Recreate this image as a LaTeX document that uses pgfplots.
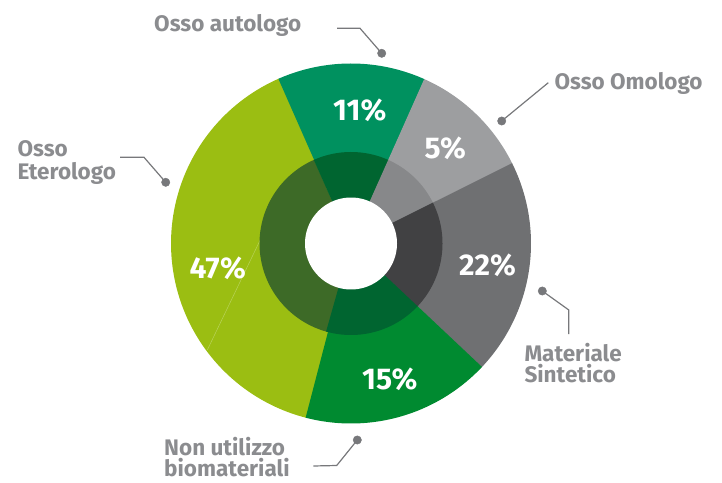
\documentclass[border=0pt]{standalone}
\usepackage{pgfplots}
\pgfplotsset{compat=1.18}
\usepackage{fontspec}
\setmainfont{Fira Sans}
\definecolor{cTeal}{HTML}{00915F}
\definecolor{cDkGreen}{HTML}{006530}
\definecolor{cLtGrey}{HTML}{9D9EA0}
\definecolor{cMdGrey}{HTML}{87888A}
\definecolor{cGrey}{HTML}{6F7072}
\definecolor{cDkGrey}{HTML}{414143}
\definecolor{cGreen}{HTML}{008A30}
\definecolor{cYGreen}{HTML}{9BBE12}
\definecolor{cOlive}{HTML}{3D6A27}
\definecolor{cFaint}{HTML}{B9D35A}
\definecolor{cLabel}{HTML}{8B8C8F}
\definecolor{cLine}{HTML}{77787B}
% sector: start angle, end angle, radius, colour
\newcommand{\sector}[4]{%
  \addplot[fill=#4, draw=none, domain=#1:#2, samples=90]
    ({351+#3*cos(x)},{238.5+#3*sin(x)}) -- (axis cs:351,238.5) -- cycle;}
\begin{document}
\begin{tikzpicture}
\begin{axis}[scale only axis, width=722pt, height=482pt,
  xmin=0, xmax=722, ymin=0, ymax=482, hide axis, clip=false]
\path (rel axis cs:0,0) rectangle (rel axis cs:1,1);
% outer ring (angles in degrees)
\sector{113.5}{256}{180}{cYGreen}     % Osso Eterologo 47%
\sector{65.8}{113.8}{180}{cTeal}      % Osso autologo 11%
\sector{26.3}{66}{180}{cLtGrey}       % Osso Omologo 5%
\sector{-43.6}{26.5}{180}{cGrey}      % Materiale Sintetico 22%
\sector{-104.6}{-43.3}{180}{cGreen}   % Non utilizzo biomateriali 15%
\addplot[color=cFaint, line width=0.5pt] coordinates {(261,243.7) (207.3,132)};
% inner ring
\sector{113.8}{256}{91.5}{cOlive}
\sector{65.8}{114}{91.5}{cDkGreen}
\sector{26.3}{66}{91.5}{cMdGrey}
\sector{-43.6}{26.5}{91.5}{cDkGrey}
\sector{-105.8}{-43.3}{91.5}{cDkGreen}
% hole
\addplot[fill=white, draw=none, domain=0:360, samples=120]
  ({351+46*cos(x)},{238.5+46*sin(x)}) -- cycle;
% percentages
\begin{scope}[every node/.style={anchor=base, inner sep=0pt, text=white,
  font=\bfseries\fontsize{30}{30}\selectfont}]
\node at (axis cs:359.7,361.3) {11\%};
\node at (axis cs:445.3,323.7) {5\%};
\node at (axis cs:487.5,206) {22\%};
\node at (axis cs:389.7,92.7) {15\%};
\node at (axis cs:217.7,203.7) {47\%};
\end{scope}
% leader lines
\addplot[color=cLine, line width=1.2pt] coordinates {(337,453.7) (360,453.7) (381.7,428.7)};
\addplot[color=cLine, line width=1.2pt] coordinates {(501.7,361) (548.3,399.3)};
\addplot[color=cLine, line width=1.2pt] coordinates {(120,324.7) (144,324.7) (165.7,299.7)};
\addplot[color=cLine, line width=1.2pt] coordinates {(542.3,191) (568.8,172) (568.8,148)};
\addplot[color=cLine, line width=1.2pt] coordinates {(357.3,42) (336.7,16.5) (313.3,16)};
\addplot[only marks, mark=*, mark size=4.2pt, color=cLine] coordinates {
  (381.7,428.7) (501.7,361) (165.7,299.7) (542.3,191) (357.3,42)};
% category labels
\begin{scope}[every node/.style={anchor=base west, inner sep=0pt, text=cLabel,
  font=\bfseries\fontsize{22.5}{24}\selectfont}]
\node at (axis cs:154,450.5) {Osso autologo};
\node at (axis cs:554.3,392) {Osso Omologo};
\node at (axis cs:17.3,325.3) {Osso};
\node at (axis cs:17.3,302) {Eterologo};
\node at (axis cs:524.3,121) {Materiale};
\node at (axis cs:524.3,99.3) {Sintetico};
\node at (axis cs:164,27) {Non utilizzo};
\node at (axis cs:164,5.3) {biomateriali};
\end{scope}
\end{axis}
\end{tikzpicture}
\end{document}
